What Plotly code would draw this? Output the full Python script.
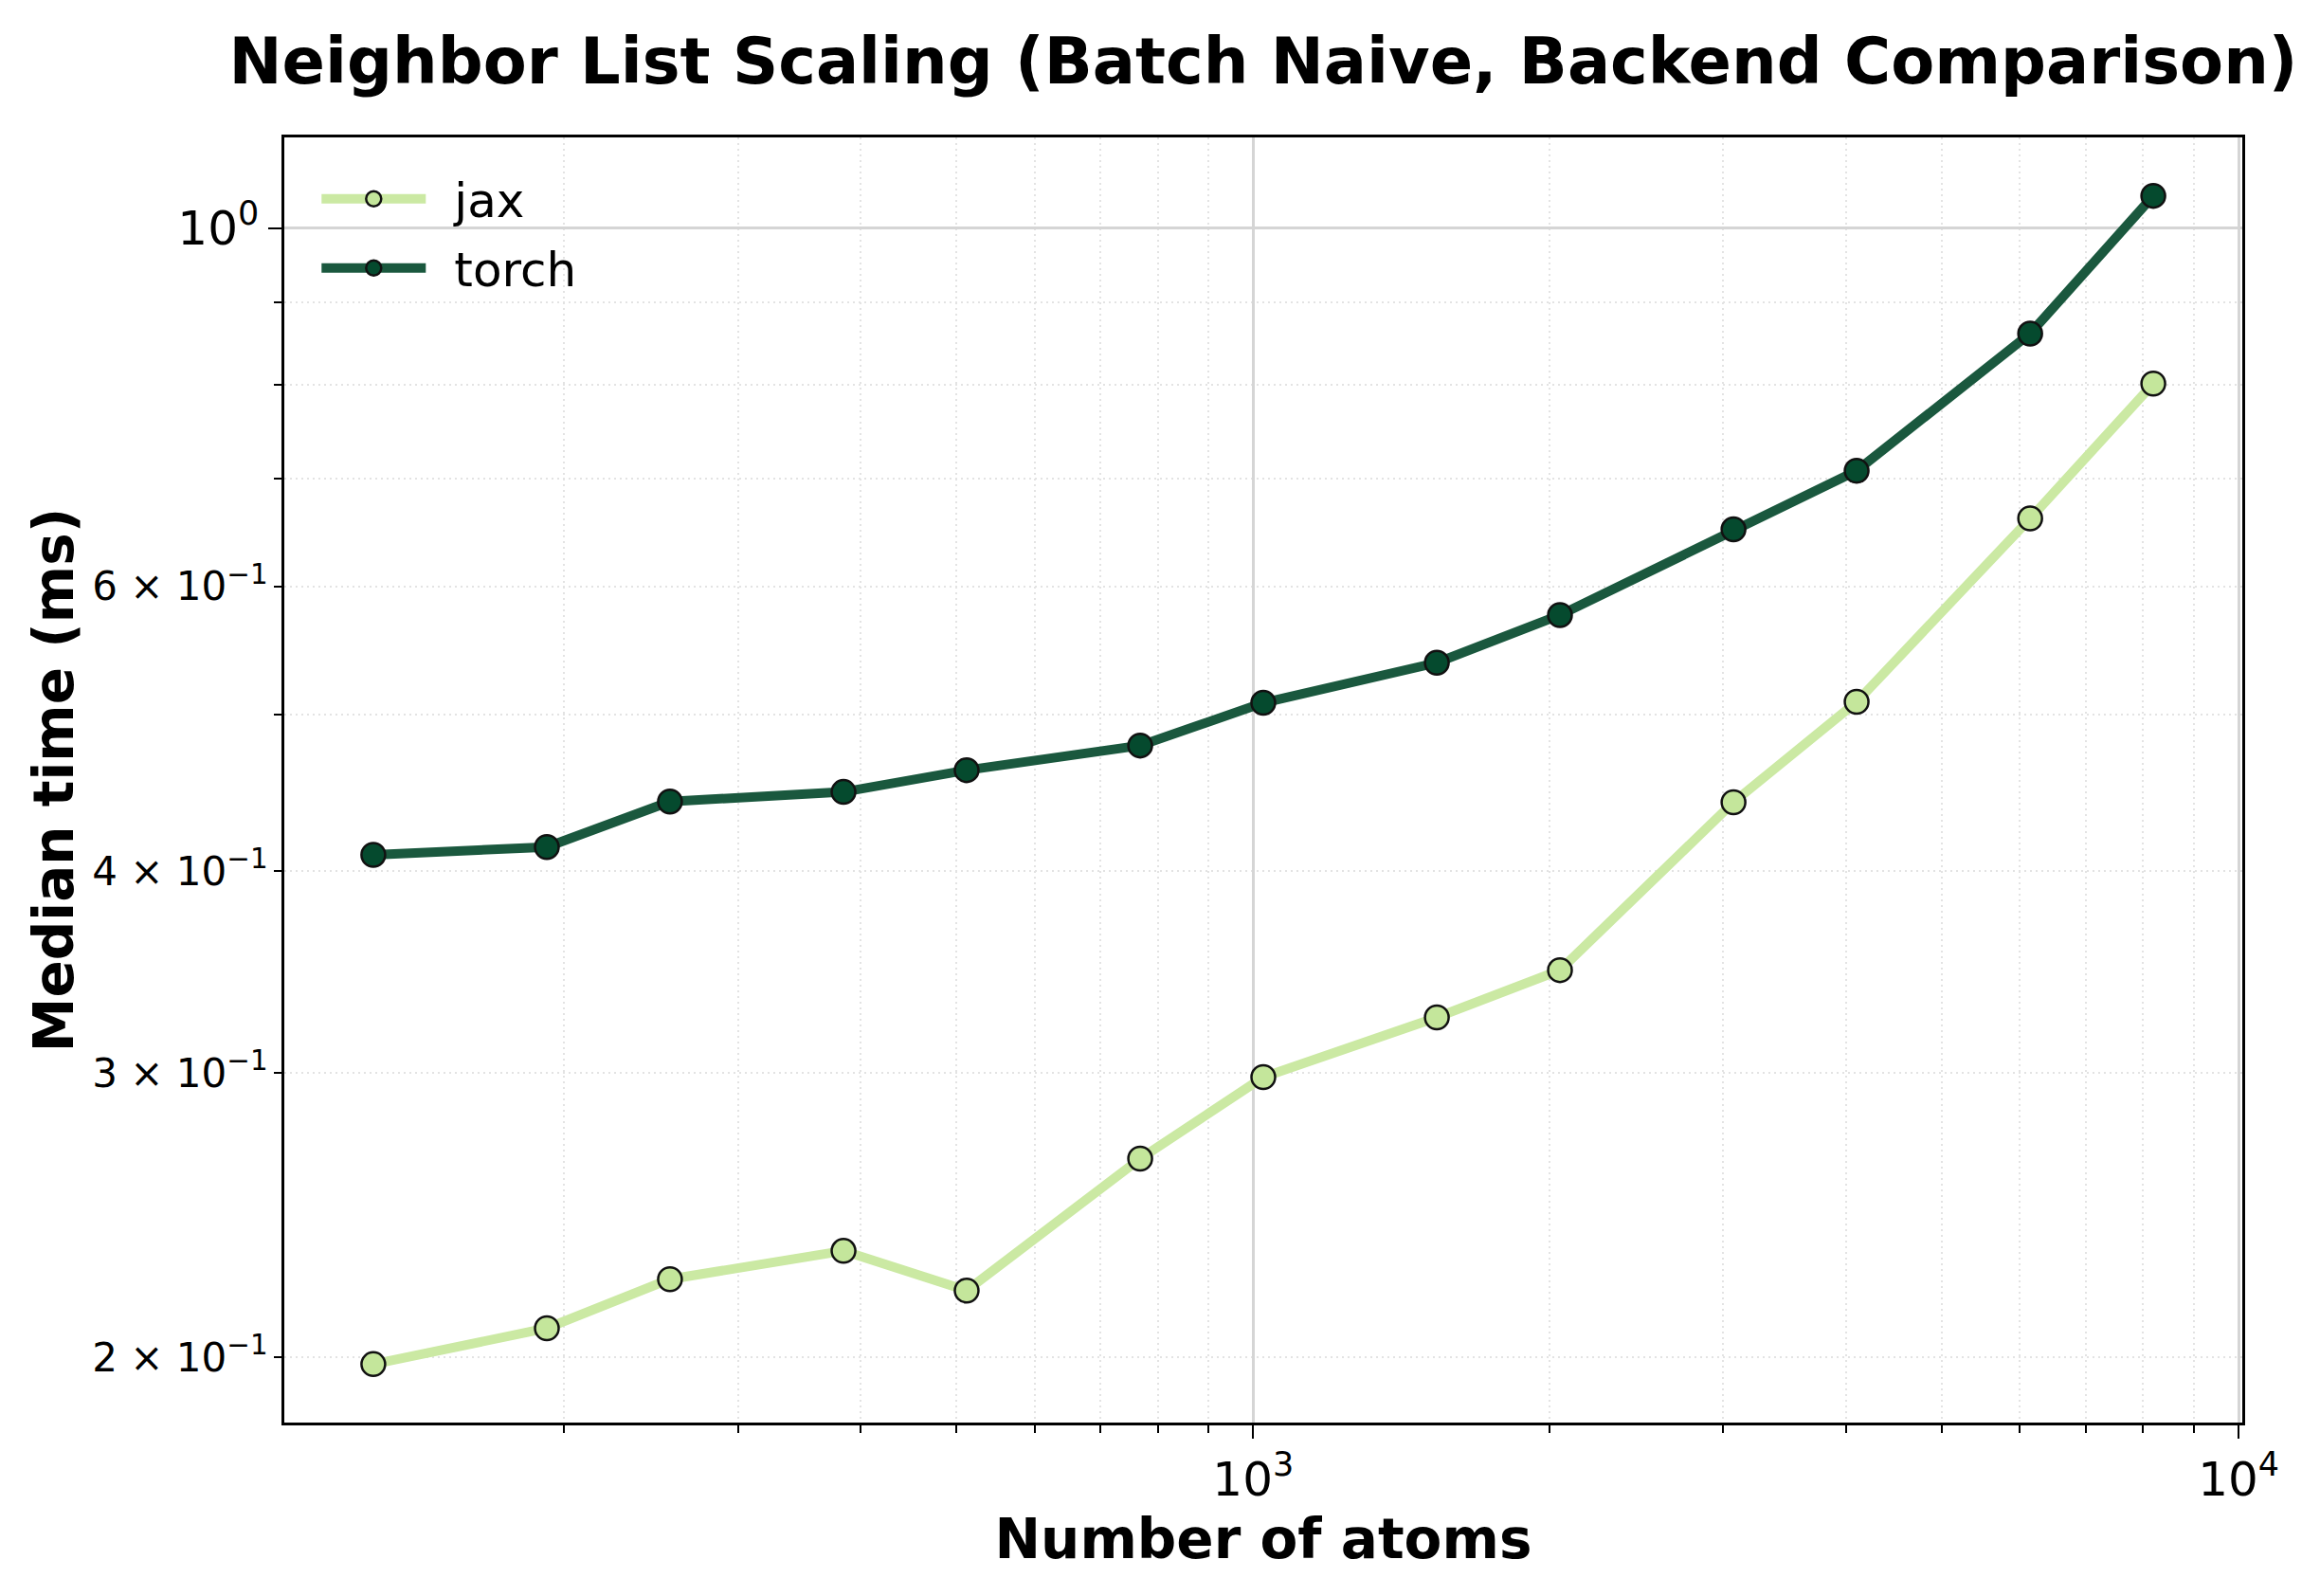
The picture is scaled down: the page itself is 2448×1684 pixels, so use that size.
import numpy as np
import plotly.graph_objects as go

# ---------------- data ----------------
atoms = [128, 192, 256, 384, 512, 768, 1024, 1536, 2048, 3072, 4096, 6144, 8192]
jax_ms = [0.1981, 0.2085, 0.2236, 0.2328, 0.2200, 0.2655, 0.2982, 0.3247, 0.3473,
          0.4412, 0.5090, 0.6610, 0.8010]
torch_ms = [0.4093, 0.4139, 0.4416, 0.4477, 0.4618, 0.4783, 0.5083, 0.5382, 0.5760,
            0.6508, 0.7075, 0.8603, 1.0468]
series_names = ["jax", "torch"]

x_major_ticks = [1e3, 1e4]
x_major_labels = ["10<sup>3</sup>", "10<sup>4</sup>"]
x_minor_ticks = [200, 300, 400, 500, 600, 700, 800, 900,
                 2000, 3000, 4000, 5000, 6000, 7000, 8000, 9000]
y_major_ticks = [1.0]
y_major_labels = ["10<sup>0</sup>"]
y_minor_ticks = [0.2, 0.3, 0.4, 0.5, 0.6, 0.7, 0.8, 0.9]
y_minor_labeled = [0.2, 0.3, 0.4, 0.6]
y_minor_labels = ["2 × 10<sup>−1</sup>", "3 × 10<sup>−1</sup>",
                  "4 × 10<sup>−1</sup>", "6 × 10<sup>−1</sup>"]

# ---------------- style ----------------
FONT = "DejaVu Sans"
line_colors = {"jax": "#cbe9a3", "torch": "#1a583e"}
face_colors = {"jax": "#c4e69b", "torch": "#054a2e"}
LEGEND_GAP = "\u2002"  # visual gap between legend handle and label


def padded_log_range(values, frac=0.05):
    lo, hi = np.log10(min(values)), np.log10(max(values))
    pad = (hi - lo) * frac
    return [lo - pad, hi + pad]


xr = padded_log_range(atoms)
yr = padded_log_range(jax_ms + torch_ms)

fig = go.Figure()
for name, vals in zip(series_names, [jax_ms, torch_ms]):
    fig.add_trace(go.Scatter(
        x=atoms, y=vals, name=LEGEND_GAP + name, legendgroup=name,
        mode="lines+markers",
        line=dict(color=line_colors[name], width=10),
        marker=dict(symbol="circle", size=25, color=face_colors[name],
                    line=dict(color="#111111", width=2.5)),
    ))
# empty trace to activate the overlay axis that carries the labelled minor ticks
fig.add_trace(go.Scatter(x=[], y=[], yaxis="y2", showlegend=False, hoverinfo="skip"))

grid_minor = dict(showgrid=True, gridcolor="#e3e3e3", gridwidth=2, griddash="2px,4px",
                  ticks="outside", ticklen=8, tickwidth=2, tickcolor="black")

fig.update_layout(
    width=2448, height=1684,
    margin=dict(l=292, r=90, t=137, b=191),
    paper_bgcolor="white", plot_bgcolor="white",
    font=dict(family=FONT, color="black"),
    title=dict(text="Neighbor List Scaling (Batch Naive, Backend Comparison)",
               font=dict(family=FONT, size=67, color="black", weight="bold"),
               x=0.5, xref="paper", xanchor="center",
               y=1 - 57 / 1684, yref="container", yanchor="middle"),
    showlegend=True,
    legend=dict(x=0.0166, y=0.981, xanchor="left", yanchor="top",
                bgcolor="rgba(0,0,0,0)", borderwidth=0,
                font=dict(family=FONT, size=50, color="black"),
                itemwidth=110, tracegroupgap=5),
    xaxis=dict(
        type="log", range=xr,
        tickmode="array", tickvals=x_major_ticks, ticktext=x_major_labels,
        tickfont=dict(family=FONT, size=50, color="black"),
        ticks="outside", ticklen=14, tickwidth=2, tickcolor="black",
        showgrid=True, gridcolor="#d5d5d5", gridwidth=3,
        minor=dict(tickmode="array", tickvals=x_minor_ticks, **grid_minor),
        showline=True, linecolor="black", linewidth=2.5, mirror=True,
        zeroline=False,
        title=dict(text="Number of atoms", standoff=15,
                   font=dict(family=FONT, size=58, color="black", weight="bold")),
    ),
    yaxis=dict(
        type="log", range=yr,
        tickmode="array", tickvals=y_major_ticks, ticktext=y_major_labels,
        tickfont=dict(family=FONT, size=50, color="black"),
        ticks="outside", ticklen=14, tickwidth=2, tickcolor="black",
        showgrid=True, gridcolor="#d5d5d5", gridwidth=3,
        minor=dict(tickmode="array", tickvals=y_minor_ticks, **grid_minor),
        showline=True, linecolor="black", linewidth=2.5, mirror=True,
        zeroline=False,
        title=dict(text="Median time (ms)", standoff=92,
                   font=dict(family=FONT, size=58, color="black", weight="bold")),
    ),
    yaxis2=dict(
        type="log", range=yr, overlaying="y", side="left", anchor="x",
        tickmode="array", tickvals=y_minor_labeled, ticktext=y_minor_labels,
        tickfont=dict(family=FONT, size=42, color="black"),
        ticks="outside", ticklen=8, tickwidth=2, tickcolor="black",
        showgrid=False, zeroline=False, showline=False,
    ),
)

fig.write_html("out.html")
